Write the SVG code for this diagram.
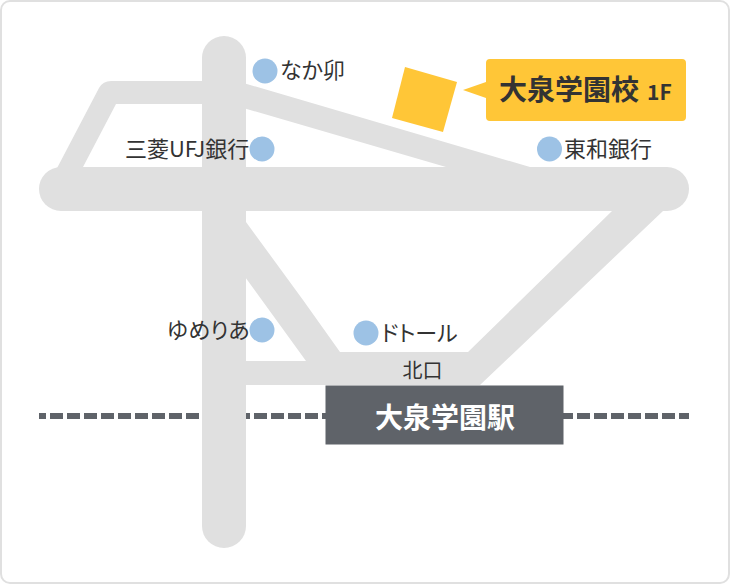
<svg xmlns="http://www.w3.org/2000/svg" width="730" height="584" viewBox="0 0 730 584">
<style>
text{font-family:"Noto Sans CJK JP","Noto Sans",sans-serif;fill:#333}
.l{font-size:22px;font-weight:400;font-feature-settings:"palt"}
.d{fill:#9dc2e5}
.r{fill:#e0e0e0}
</style>
<rect width="730" height="584" fill="#fff"/>
<rect x="1" y="1" width="728" height="582" rx="9" fill="#fff" stroke="#e0e0e0" stroke-width="2"/>
<g id="rail"><path d="M39 416H689" fill="none" stroke="#5f6369" stroke-width="6" stroke-dasharray="13 4" stroke-dashoffset="6"/></g>
<g id="connectors">
<rect class="r" x="202" y="36" width="44" height="512" rx="22"/>
<rect class="r" x="39" y="167" width="650" height="44" rx="22"/>
<path class="r" d="M55 172L99 88Q103 81 111 81H210V104H116L83 167V180H55Z"/>
<path class="r" d="M240 82L530 167V180H460L446 167L240 107Z"/>
<path class="r" d="M240 216L246 222L303 300L340 352H468L612 211H663L480 385H240V361H306L240 270Z"/>
</g>
<g id="target">
<path d="M405 67L457 82L443 132L392 118Z" fill="#ffc637"/>
<path d="M486 63Q486 59 490 59H682Q686 59 686 63V117Q686 121 682 121H490Q486 121 486 117V98L463 90L486 82Z" fill="#ffc637"/>
<text x="499" y="100" font-size="28" font-weight="700">大泉学園校</text>
<text x="647" y="100" font-size="21" font-weight="700">1F</text>
</g>
<g id="station">
<rect x="325.500" y="385.500" width="238" height="59" fill="#5f6369"/>
<text x="445" y="428" font-size="28" font-weight="700" text-anchor="middle" style="fill:#fff">大泉学園駅</text>
<text x="422.500" y="378" font-size="20" text-anchor="middle">北口</text>
</g>
<g id="naka"><circle class="d" cx="265" cy="71" r="12.500"/><text class="l" x="280" y="78">なか卯</text></g>
<g id="mufg"><circle class="d" cx="262" cy="149" r="12.500"/><text class="l" x="125" y="157">三菱UFJ銀行</text></g>
<g id="towa"><circle class="d" cx="549.500" cy="149" r="12.500"/><text class="l" x="564" y="157">東和銀行</text></g>
<g id="yumeria"><circle class="d" cx="262" cy="330" r="12.500"/><text class="l" x="167" y="338">ゆめりあ</text></g>
<g id="doutor"><circle class="d" cx="366" cy="333" r="12.500"/><text class="l" x="381" y="341">ドトール</text></g>
</svg>
